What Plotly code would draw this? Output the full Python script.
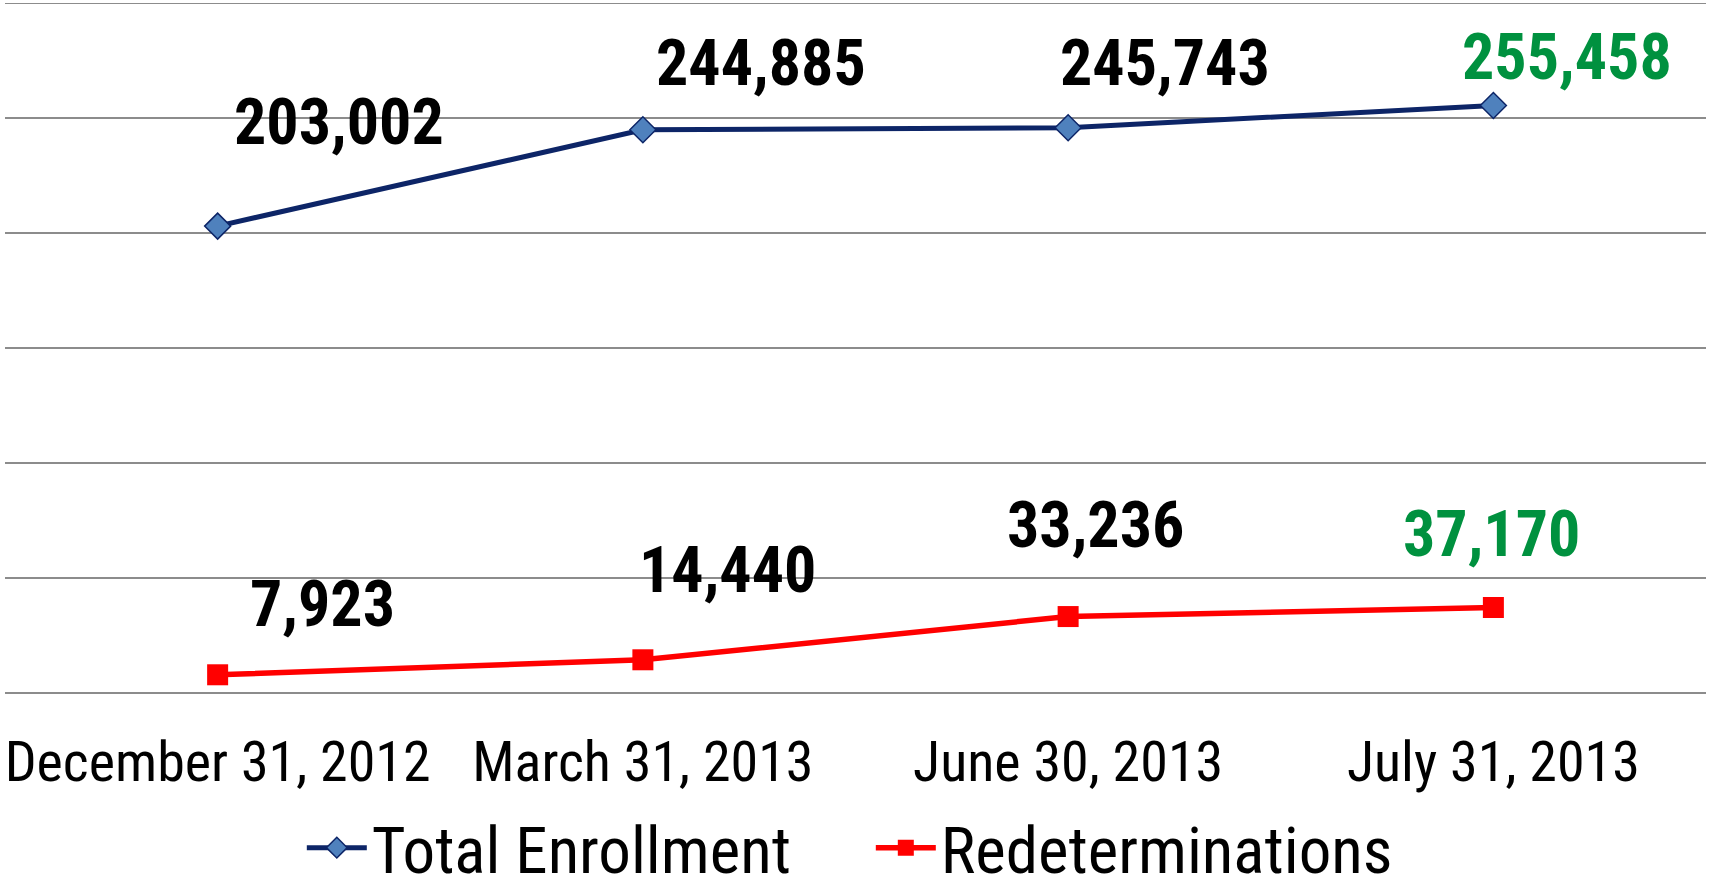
import plotly.graph_objects as go

categories = ["December 31, 2012", "March 31, 2013", "June 30, 2013", "July 31, 2013"]
total_enrollment = [203002, 244885, 245743, 255458]
redeterminations = [7923, 14440, 33236, 37170]
y_ticks = [0, 50000, 100000, 150000, 200000, 250000, 300000]

NAVY = "#0D2567"
MARKER_BLUE = "#4F81BD"
RED = "#FF0000"
GREEN = "#00913F"
FONT = "Liberation Sans Narrow, Roboto Condensed, Liberation Sans, sans-serif"

fig = go.Figure()
fig.add_trace(go.Scatter(
    x=categories, y=total_enrollment, name="Total Enrollment", mode="lines+markers",
    line=dict(color=NAVY, width=5),
    marker=dict(symbol="diamond", size=20, color=MARKER_BLUE, line=dict(color=NAVY, width=1.5)),
))
fig.add_trace(go.Scatter(
    x=categories, y=redeterminations, name="Redeterminations", mode="lines+markers",
    line=dict(color=RED, width=5.5),
    marker=dict(symbol="square", size=21, color=RED),
))

# label offsets (pixels) relative to each point
te_shift = [(121, 104), (118, 66), (97, 64), (74, 48)]
rd_shift = [(105, 70), (85, 89), (27, 91), (-2, 73)]
for i, (c, v) in enumerate(zip(categories, total_enrollment)):
    fig.add_annotation(x=c, y=v, text=f"<b>{v:,}</b>", showarrow=False,
                       xshift=te_shift[i][0], yshift=te_shift[i][1],
                       font=dict(family=FONT, size=64, color=GREEN if i == 3 else "black"))
for i, (c, v) in enumerate(zip(categories, redeterminations)):
    fig.add_annotation(x=c, y=v, text=f"<b>{v:,}</b>", showarrow=False,
                       xshift=rd_shift[i][0], yshift=rd_shift[i][1],
                       font=dict(family=FONT, size=64, color=GREEN if i == 3 else "black"))

fig.update_layout(
    width=1711, height=890,
    margin=dict(l=5, r=5, t=3, b=197, autoexpand=False),
    paper_bgcolor="white", plot_bgcolor="white",
    font=dict(family=FONT, color="black"),
    showlegend=True,
    legend=dict(orientation="h", x=0.509, xanchor="center", y=-0.2245, yanchor="middle",
                font=dict(family=FONT, size=65, color="black"), itemwidth=60,
                entrywidth=494, entrywidthmode="pixels", tracegroupgap=0,
                traceorder="normal"),
    xaxis=dict(type="category", range=[-0.5, 3.5], showgrid=False, zeroline=False,
               showline=False, ticks="", tickfont=dict(family=FONT, size=56, color="black"),
               ticklabelstandoff=31),
    yaxis=dict(range=[0, 300000], tickvals=y_ticks, showticklabels=False,
               showgrid=True, gridcolor="#8C8C8C", gridwidth=2,
               zeroline=True, zerolinecolor="#8C8C8C", zerolinewidth=2, showline=False),
    shapes=[dict(type="line", xref="paper", yref="y", x0=0, x1=1, y0=y_ticks[-1], y1=y_ticks[-1],
                 line=dict(color="#8C8C8C", width=2))],
)

fig.write_html("out.html", config={"displayModeBar": False},
               post_script="document.body.style.margin='0';document.body.style.overflow='hidden';")
